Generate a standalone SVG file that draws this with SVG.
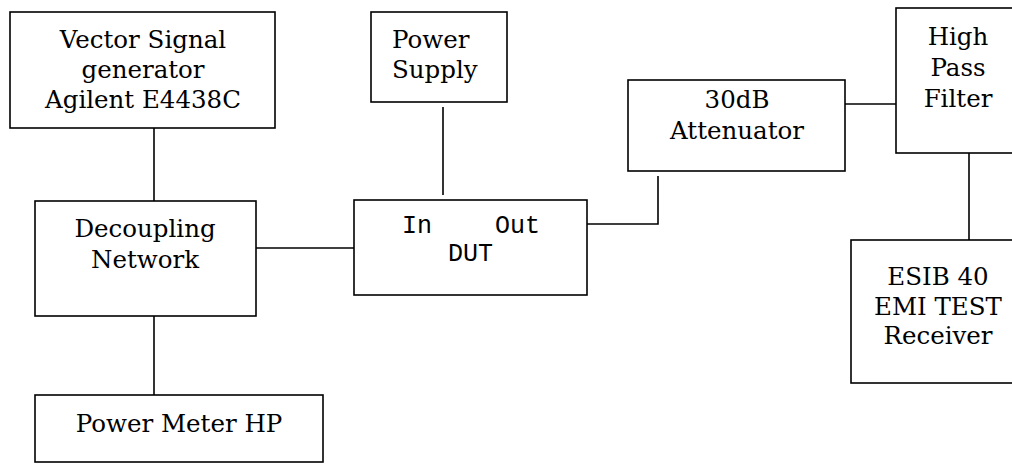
<svg xmlns="http://www.w3.org/2000/svg" width="1012" height="464" viewBox="0 0 1012 464">
<style>
.box{fill:#fff;stroke:#000;stroke-width:1.6}
.ln{fill:none;stroke:#000;stroke-width:1.6}
.t{font-family:"DejaVu Serif","Liberation Serif",serif;font-size:24.5px;fill:#000;text-anchor:middle}
.m{font-family:"Liberation Mono","DejaVu Sans Mono",monospace;font-size:25px;fill:#000}
</style>
<rect width="1012" height="464" fill="#fff"/>
<g id="connectors">
<line class="ln" x1="154" y1="128" x2="154" y2="201"/>
<line class="ln" x1="154" y1="316" x2="154" y2="395"/>
<line class="ln" x1="256" y1="248" x2="354" y2="248"/>
<line class="ln" x1="443" y1="107" x2="443" y2="195"/>
<polyline class="ln" points="587,224 658,224 658,176"/>
<line class="ln" x1="845" y1="104" x2="896" y2="104"/>
<line class="ln" x1="969" y1="153" x2="969" y2="240"/>
</g>
<g id="vsg">
<rect class="box" x="10" y="12" width="265" height="116"/>
<text class="t" x="143" y="48">Vector Signal</text>
<text class="t" x="143" y="78">generator</text>
<text class="t" x="143" y="108">Agilent E4438C</text>
</g>
<g id="decoupling">
<rect class="box" x="35" y="201" width="221" height="115"/>
<text class="t" x="145" y="237">Decoupling</text>
<text class="t" x="145" y="268">Network</text>
</g>
<g id="powermeter">
<rect class="box" x="35" y="395" width="288" height="67"/>
<text class="t" x="179" y="432">Power Meter HP</text>
</g>
<g id="powersupply">
<rect class="box" x="371" y="12" width="136" height="90"/>
<text class="t" x="392" y="48" style="text-anchor:start">Power</text>
<text class="t" x="392" y="78" style="text-anchor:start">Supply</text>
</g>
<g id="dut">
<rect class="box" x="354" y="200" width="233" height="95"/>
<text class="m" x="402" y="233">In</text>
<text class="m" x="495" y="233">Out</text>
<text class="m" x="448" y="261">DUT</text>
</g>
<g id="attenuator">
<rect class="box" x="628" y="80" width="217" height="91"/>
<text class="t" x="737" y="108">30dB</text>
<text class="t" x="737" y="139">Attenuator</text>
</g>
<g id="hpf">
<rect class="box" x="896" y="8" width="124" height="145"/>
<text class="t" x="958" y="45">High</text>
<text class="t" x="958" y="76">Pass</text>
<text class="t" x="958" y="107">Filter</text>
</g>
<g id="esib">
<rect class="box" x="851" y="240" width="174" height="143"/>
<text class="t" x="938" y="285">ESIB 40</text>
<text class="t" x="938" y="315">EMI TEST</text>
<text class="t" x="938" y="344">Receiver</text>
</g>
</svg>
